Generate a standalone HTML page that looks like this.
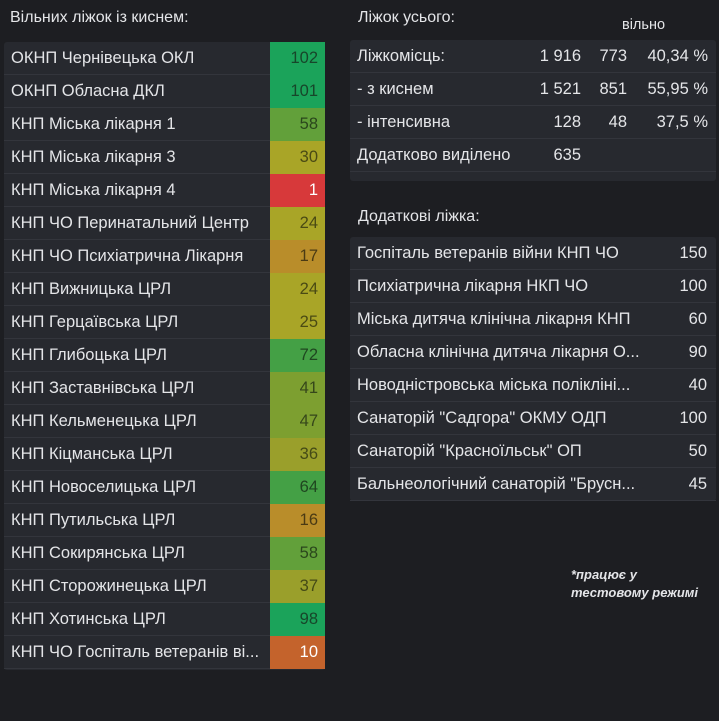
<!DOCTYPE html>
<html><head><meta charset="utf-8">
<style>
html,body{margin:0;padding:0;background:#1d1e22;width:719px;height:721px;overflow:hidden;font-family:"Liberation Sans","DejaVu Sans",sans-serif;color:#e4e5e8;}
.title{position:absolute;font-size:16px;color:#e4e5e8;}
.panel{position:absolute;background:#27292f;border-radius:3px;}
.row{position:absolute;left:0;right:0;height:33px;border-bottom:1px solid #33353c;box-sizing:border-box;font-size:16.5px;line-height:32px;}
.lab{position:absolute;left:7px;white-space:nowrap;overflow:hidden;}
.val{position:absolute;top:0;height:33px;text-align:right;box-sizing:border-box;padding-right:7px;}
.note{position:absolute;left:571px;top:566px;font-size:13px;font-style:italic;font-weight:bold;color:#e4e5e8;line-height:18px;text-align:left;}
</style></head><body>
<div class="title" style="left:10px;top:9px;">Вільних ліжок із киснем:</div>
<div class="panel" id="left" style="left:4px;top:42px;width:321px;height:628px;"></div>

<div class="title" style="left:358px;top:9px;">Ліжок усього:</div>
<div class="title" style="left:622px;top:17px;font-size:14.5px;">вільно</div>
<div class="panel" id="summary" style="left:350px;top:40px;width:366px;height:141px;"></div>

<div class="title" style="left:358px;top:208px;">Додаткові ліжка:</div>
<div class="panel" id="extra" style="left:350px;top:237px;width:366px;height:264px;"></div>

<div class="note">*працює у<br>тестовому режимі</div>

<script>
const hospitals=["ОКНП Чернівецька ОКЛ","ОКНП Обласна ДКЛ","КНП Міська лікарня 1","КНП Міська лікарня 3","КНП Міська лікарня 4","КНП ЧО Перинатальний Центр","КНП ЧО Психіатрична Лікарня","КНП Вижницька ЦРЛ","КНП Герцаївська ЦРЛ","КНП Глибоцька ЦРЛ","КНП Заставнівська ЦРЛ","КНП Кельменецька ЦРЛ","КНП Кіцманська ЦРЛ","КНП Новоселицька ЦРЛ","КНП Путильська ЦРЛ","КНП Сокирянська ЦРЛ","КНП Сторожинецька ЦРЛ","КНП Хотинська ЦРЛ","КНП ЧО Госпіталь ветеранів ві..."];
const freeOxygen=[102,101,58,30,1,24,17,24,25,72,41,47,36,64,16,58,37,98,10];

const summaryLabels=["Ліжкомісць:","- з киснем","- інтенсивна","Додатково виділено"];
const summaryTotal=["1 916","1 521","128","635"];
const summaryFree=["773","851","48",""];
const summaryPct=["40,34 %","55,95 %","37,5 %",""];

const extraNames=["Госпіталь ветеранів війни КНП ЧО","Психіатрична лікарня НКП ЧО","Міська дитяча клінічна лікарня КНП","Обласна клінічна дитяча лікарня О...","Новодністровська міська поліклінi...","Санаторій \"Садгора\" ОКМУ ОДП","Санаторій \"Красноїльськ\" ОП","Бальнеологічний санаторій \"Брусн..."];
const extraBeds=[150,100,60,90,40,100,50,45];

function cellColor(v){
  if(v<=5) return ["#d7393a","#ffffff"];
  if(v<=12) return ["#c4632c","#ffffff"];
  if(v<=20) return ["#b98d2a","#4a3a14"];
  if(v<=32) return ["#a9a527","#4a4a14"];
  if(v<=40) return ["#9a9f2b","#444a16"];
  if(v<=50) return ["#7d9f30","#35461a"];
  if(v<=60) return ["#62a03a","#2a461c"];
  if(v<=80) return ["#44a045","#1f4620"];
  return ["#1ba35a","#17462a"];
}
const rowH=33;
const left=document.getElementById('left');
hospitals.forEach((h,i)=>{
  const r=document.createElement('div');r.className='row';r.style.top=(i*rowH)+'px';
  
  
  const l=document.createElement('div');l.className='lab';l.textContent=h;l.style.width='258px';
  
  
  const v=document.createElement('div');v.className='val';
  
  
  const c=cellColor(freeOxygen[i]);
  v.style.left='266px';v.style.width='55px';v.style.background=c[0];v.style.color=c[1];
  v.textContent=freeOxygen[i];
  r.appendChild(l);r.appendChild(v);left.appendChild(r);
});
const sm=document.getElementById('summary');
summaryLabels.forEach((s,i)=>{
  const r=document.createElement('div');r.className='row';r.style.top=(i*rowH)+'px';
  
  
  const l=document.createElement('div');l.className='lab';l.textContent=s;
  
  
  r.appendChild(l);
  [[summaryTotal[i],128,'summary-total'],[summaryFree[i],82,'summary-free'],[summaryPct[i],1,'summary-percent']].forEach(([t,rt,n])=>{
    const v=document.createElement('div');v.className='val';v.textContent=t;
    
    
    v.style.right=rt+'px';v.style.width='80px';
    r.appendChild(v);
  });
  sm.appendChild(r);
});
const ex=document.getElementById('extra');
extraNames.forEach((s,i)=>{
  const r=document.createElement('div');r.className='row';r.style.top=(i*rowH)+'px';
  
  
  const l=document.createElement('div');l.className='lab';l.textContent=s;l.style.width='295px';
  
  
  const v=document.createElement('div');v.className='val';v.textContent=extraBeds[i];
  
  
  v.style.right='2px';v.style.width='60px';
  r.appendChild(l);r.appendChild(v);ex.appendChild(r);
});
</script>
</body></html>
